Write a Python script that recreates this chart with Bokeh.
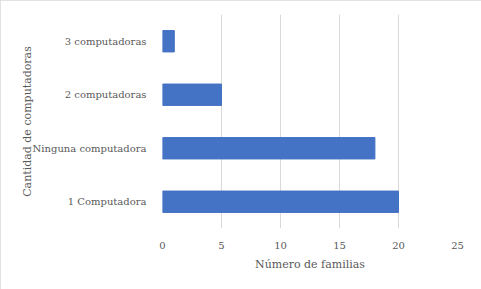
from bokeh.plotting import figure
from bokeh.models import FactorRange, Range1d
from bokeh.embed import file_html
from bokeh.resources import INLINE

categories = ["1 Computadora", "Ninguna computadora", "2 computadoras", "3 computadoras"]
values = [20, 18, 5, 1]
x_ticks = [0, 5, 10, 15, 20, 25]

FONT = "DejaVu Serif"
GRAY = "#595959"

p = figure(width=481, height=289, output_backend="svg", toolbar_location=None,
           y_range=FactorRange(factors=categories, range_padding=0),
           x_range=Range1d(0, 25),
           min_border_left=162, min_border_right=24, min_border_top=14, min_border_bottom=61)
p.hbar(y=categories, right=values, left=0, height=0.4, color="#4472c4")

p.outline_line_color = None
p.styles = {"outline": "1px solid #d9d9d9", "outline-offset": "-1px"}
p.ygrid.grid_line_color = None
p.xgrid.grid_line_color = "#d9d9d9"
p.xaxis.ticker = x_ticks
for ax in (p.xaxis, p.yaxis):
    ax.axis_line_color = None
    ax.major_tick_line_color = None
    ax.minor_tick_line_color = None
    ax.major_label_text_font = FONT
    ax.major_label_text_font_size = "10px"
    ax.major_label_text_color = GRAY
    ax.axis_label_text_font = FONT
    ax.axis_label_text_font_size = "11px"
    ax.axis_label_text_color = GRAY
    ax.axis_label_text_font_style = "normal"
p.xaxis.axis_label = "Número de familias"
p.yaxis.axis_label = "Cantidad de computadoras"
p.yaxis.major_label_standoff = 10
p.yaxis.axis_label_standoff = -4
p.xaxis.major_label_standoff = 7
p.xaxis.axis_label_standoff = 6

open("out.html", "w").write(file_html(p, INLINE))
